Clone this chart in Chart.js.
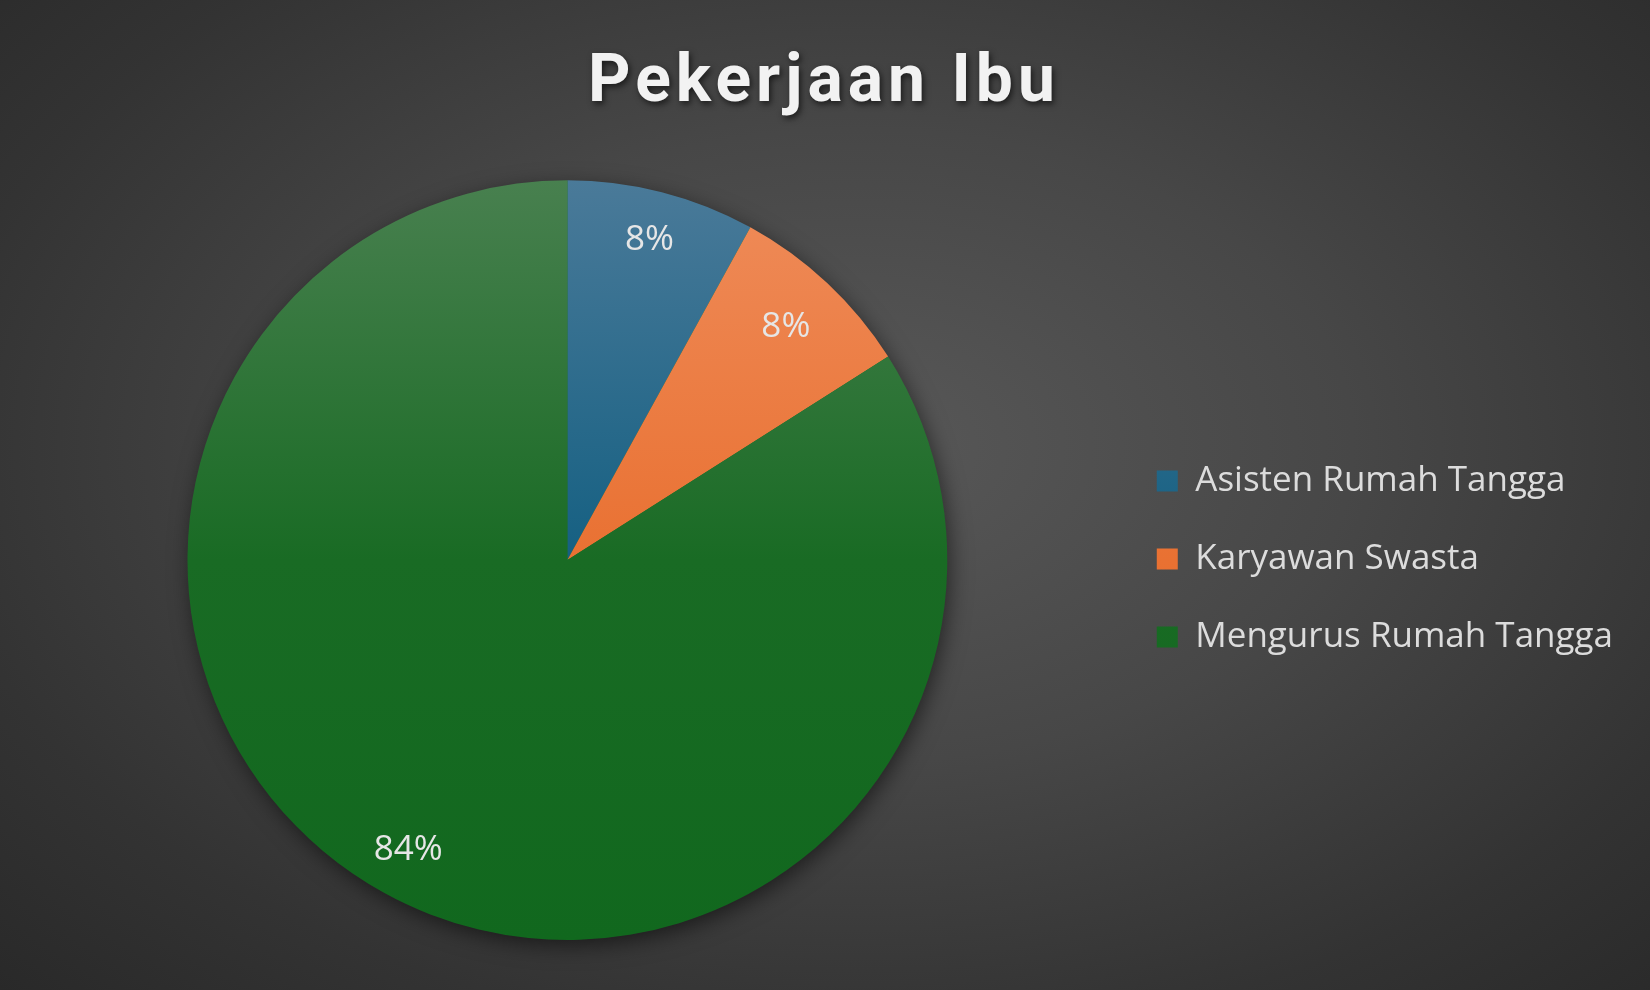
<!DOCTYPE html>
<html>
<head>
<meta charset="utf-8">
<script src="https://cdn.jsdelivr.net/npm/chart.js@4/dist/chart.umd.min.js"></script>
<style>
  html, body { margin: 0; padding: 0; }
  body {
    width: 1650px; height: 990px; overflow: hidden;
    background: radial-gradient(ellipse 75% 80% at 52% 45%, #585858 0%, #474747 40%, #333333 75%, #282828 100%);
  }
  #wrap { position: relative; width: 1650px; height: 990px; }
</style>
</head>
<body>
<div id="wrap"><canvas id="c" width="1650" height="990"></canvas></div>
<script>
const chartTitle = 'Pekerjaan Ibu';
const categories = ['Asisten Rumah Tangga', 'Karyawan Swasta', 'Mengurus Rumah Tangga'];
const counts = [2, 2, 21];
const baseColors = ['#156082', '#E97132', '#196B24'];
const topColors = ['#4a7a99', '#ef8c5a', '#48804f'];
const bottomColors = ['#0d5a80', '#e5631c', '#11681e'];
const labelRadius = [0.87, 0.84, 0.87];

function sliceFill(ctx) {
  const i = ctx.dataIndex;
  const chart = ctx.chart;
  const area = chart.chartArea;
  if (i === undefined) return baseColors[0];
  if (!area) return baseColors[i];
  const r = Math.min(area.right - area.left, area.bottom - area.top) / 2;
  const cy = (area.top + area.bottom) / 2;
  const g = chart.ctx.createLinearGradient(0, cy - r, 0, cy + r);
  g.addColorStop(0, topColors[i]);
  g.addColorStop(0.5, baseColors[i]);
  g.addColorStop(1, bottomColors[i]);
  return g;
}

const shadowPlugin = {
  id: 'pieShadow',
  beforeDatasetsDraw(chart) {
    const arc = chart.getDatasetMeta(0).data[0];
    if (!arc) return;
    const ctx = chart.ctx;
    ctx.save();
    ctx.shadowColor = 'rgba(0,0,0,0.55)';
    ctx.shadowBlur = 22;
    ctx.shadowOffsetX = 3;
    ctx.shadowOffsetY = 6;
    ctx.fillStyle = '#196B24';
    ctx.beginPath();
    ctx.arc(arc.x, arc.y, arc.outerRadius - 1, 0, Math.PI * 2);
    ctx.fill();
    ctx.restore();
  }
};

const labelPlugin = {
  id: 'pctLabels',
  afterDatasetsDraw(chart) {
    const ctx = chart.ctx;
    const meta = chart.getDatasetMeta(0);
    const total = counts.reduce((a, b) => a + b, 0);
    ctx.save();
    ctx.font = '400 35px "Open Sans", Lato, sans-serif';
    ctx.fillStyle = '#e6e6e6';
    ctx.textAlign = 'center';
    ctx.textBaseline = 'middle';
    meta.data.forEach((arc, i) => {
      const mid = (arc.startAngle + arc.endAngle) / 2;
      const r = arc.outerRadius * labelRadius[i];
      const x = arc.x + Math.cos(mid) * r;
      const y = arc.y + Math.sin(mid) * r;
      ctx.fillText(Math.round(counts[i] / total * 100) + '%', x, y);
    });
    ctx.restore();
  }
};

const legendShift = {
  id: 'legendShift',
  afterLayout(chart) {
    const lg = chart.legend;
    if (!lg) return;
    lg.top += 89; lg.bottom += 89;
    lg.left += 4; lg.right += 4;
  }
};

const chart = new Chart(document.getElementById('c'), {
  type: 'pie',
  data: {
    labels: categories,
    datasets: [{
      data: counts,
      backgroundColor: sliceFill,
      borderWidth: 0,
      hoverOffset: 0
    }]
  },
  options: {
    responsive: false,
    animation: false,
    devicePixelRatio: 1,
    layout: { padding: { left: 25, right: 31, top: 0, bottom: 50 } },
    plugins: {
      tooltip: { enabled: false },
      title: {
        display: true,
        text: chartTitle,
        color: '#f2f2f2',
        font: { family: '"Liberation Sans Narrow", Roboto, sans-serif', size: 66, weight: 'bold', lineHeight: 1.2 },
        padding: { top: 45, bottom: 56 }
      },
      legend: {
        position: 'right',
        align: 'center',
        labels: {
          color: '#dcdcdc',
          font: { family: '"Open Sans", Lato, sans-serif', size: 35 },
          boxWidth: 21,
          boxHeight: 21,
          padding: 43
        }
      }
    }
  },
  plugins: [shadowPlugin, labelPlugin, legendShift]
});

// letter-spaced title with soft shadow
const tb = chart.titleBlock;
const origDraw = tb.draw.bind(tb);
tb.draw = function () {
  const ctx = chart.ctx;
  ctx.save();
  ctx.letterSpacing = '5px';
  ctx.shadowColor = 'rgba(0,0,0,0.6)';
  ctx.shadowBlur = 6;
  ctx.shadowOffsetX = 2;
  ctx.shadowOffsetY = 3;
  ctx.translate(2, 0);
  origDraw();
  ctx.restore();
};
chart.draw();
</script>
</body>
</html>
